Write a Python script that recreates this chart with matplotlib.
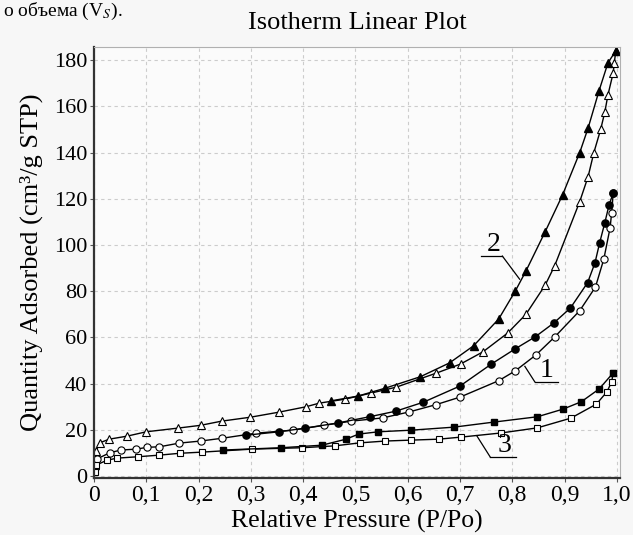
import numpy as np
import matplotlib.pyplot as plt

plt.rcParams['font.family'] = ['Liberation Serif', 'DejaVu Serif']
plt.rcParams['mathtext.fontset'] = 'stix'

# curve 2 (triangles)
ads2_x = [0.001, 0.004, 0.012, 0.029, 0.063, 0.10, 0.161, 0.204, 0.244, 0.299, 0.354, 0.405, 0.431, 0.48,
          0.529, 0.578, 0.655, 0.701, 0.744, 0.791, 0.826, 0.863, 0.881, 0.929, 0.945, 0.956, 0.969, 0.977,
          0.983, 0.993, 0.995, 0.998]
ads2_y = [5.0, 11.0, 14.5, 16.0, 17.3, 19.2, 20.8, 22.0, 23.8, 25.5, 27.7, 30.0, 31.6, 33.3,
          35.9, 38.5, 44.6, 48.5, 53.8, 61.9, 70.0, 82.7, 91.0, 118.8, 129.6, 140.0, 150.0, 157.6,
          165.0, 174.5, 178.8, 184.0]
des2_x = [0.998, 0.983, 0.966, 0.945, 0.929, 0.896, 0.863, 0.826, 0.806, 0.774, 0.726, 0.680, 0.624,
          0.556, 0.504, 0.454]
des2_y = [184.0, 178.8, 166.8, 150.6, 140.0, 121.6, 105.8, 88.7, 80.2, 68.0, 56.4, 49.0, 43.0,
          38.0, 34.6, 32.6]

# curve 1 (circles)
ads1_x = [0.001, 0.006, 0.03, 0.051, 0.081, 0.102, 0.125, 0.163, 0.204, 0.245, 0.31, 0.38, 0.44, 0.492,
          0.552, 0.603, 0.655, 0.70, 0.774, 0.806, 0.845, 0.881, 0.929, 0.959, 0.975, 0.987, 0.990, 0.993]
ads1_y = [3.5, 7.5, 10.1, 11.3, 11.7, 12.5, 12.7, 14.3, 15.2, 16.4, 18.6, 19.9, 22.0, 23.8,
          25.2, 27.8, 31.0, 34.2, 41.3, 45.6, 52.4, 60.2, 71.6, 81.8, 93.9, 107.4, 114.0, 122.5]
des1_x = [0.993, 0.985, 0.977, 0.967, 0.958, 0.944, 0.911, 0.879, 0.844, 0.805, 0.76, 0.70, 0.63,
          0.577, 0.527, 0.466, 0.404, 0.354, 0.29]
des1_y = [122.5, 117.3, 109.7, 100.9, 92.2, 83.7, 72.7, 66.2, 60.3, 55.0, 48.5, 39.0, 32.0,
          28.1, 25.7, 23.0, 20.8, 19.2, 17.7]

# curve 3 (squares)
ads3_x = [0.001, 0.004, 0.025, 0.044, 0.084, 0.125, 0.164, 0.206, 0.302, 0.398, 0.46, 0.508, 0.557,
          0.607, 0.659, 0.702, 0.779, 0.848, 0.912, 0.961, 0.981, 0.990, 0.993]
ads3_y = [2.0, 4.8, 6.9, 7.8, 8.4, 9.1, 9.9, 10.4, 11.7, 12.3, 13.1, 14.4, 15.2,
          15.6, 16.0, 16.9, 18.7, 20.9, 25.1, 31.2, 36.5, 40.8, 44.7]
des3_x = [0.993, 0.966, 0.932, 0.897, 0.848, 0.765, 0.688, 0.607, 0.544, 0.506, 0.482, 0.436, 0.358, 0.247]
des3_y = [44.7, 37.7, 32.2, 29.0, 25.7, 23.4, 21.2, 19.9, 19.2, 18.2, 16.0, 13.4, 12.3, 11.3]

x_ticks = [0, 0.1, 0.2, 0.3, 0.4, 0.5, 0.6, 0.7, 0.8, 0.9, 1.0]
x_ticklabels = ['0', '0,1', '0,2', '0,3', '0,4', '0,5', '0,6', '0,7', '0,8', '0,9', '1,0']
y_ticks = [0, 20, 40, 60, 80, 100, 120, 140, 160, 180]

# curve labels: text, text centre, underline (x0, x1, y), leader start, leader end
labels = [('2', (0.764, 100.0), (0.741, 0.781, 95.2), (0.781, 95.2), (0.814, 85.2)),
          ('1', (0.866, 45.8), (0.843, 0.887, 40.8), (0.843, 40.8), (0.824, 47.5)),
          ('3', (0.786, 13.2), (0.758, 0.807, 8.2), (0.758, 8.2), (0.732, 17.5))]

fig = plt.figure(figsize=(6.33, 5.35), dpi=100, facecolor='#f7f7f7')
ax = fig.add_axes([0.1485, 0.1065, 0.831, 0.8055], facecolor='#fbfbfb')

ls = dict(color='black', lw=1.0)
ax.plot(ads2_x, ads2_y, marker='^', ms=6, mfc='white', mec='black', mew=0.8, **ls)
ax.plot(des2_x, des2_y, marker='^', ms=6, mfc='black', mec='black', **ls)
ax.plot(ads1_x, ads1_y, marker='o', ms=5.2, mfc='white', mec='black', mew=0.8, **ls)
ax.plot(des1_x, des1_y, marker='o', ms=5.2, mfc='black', mec='black', **ls)
ax.plot(ads3_x, ads3_y, marker='s', ms=4.8, mfc='white', mec='black', mew=0.8, **ls)
ax.plot(des3_x, des3_y, marker='s', ms=4.8, mfc='black', mec='black', **ls)

for txt, tpos, ul, start, end in labels:
    ax.text(tpos[0], tpos[1], txt, fontsize=20, ha='center', va='center')
    ax.plot([ul[0], ul[1]], [ul[2], ul[2]], color='black', lw=0.9)
    ax.plot([start[0], end[0]], [start[1], end[1]], color='black', lw=0.9)

ax.set_xlim(0, 1.006)
ax.set_ylim(-0.8, 185.6)
ax.set_xticks(x_ticks)
ax.set_xticklabels(x_ticklabels)
ax.set_yticks(y_ticks)
ax.tick_params(axis='y', labelsize=16, length=3, color='#555555', pad=2)
ax.tick_params(axis='x', labelsize=17, length=3, color='#555555', pad=2)
ax.grid(True, color='#cccccc', ls=(0, (3, 3)), lw=0.8)
ax.set_axisbelow(True)

for s in ['left', 'bottom']:
    ax.spines[s].set_color('#333333')
    ax.spines[s].set_linewidth(1.6)
for s in ['top', 'right']:
    ax.spines[s].set_color('#b0b0b0')
    ax.spines[s].set_linewidth(0.8)

ax.set_title('Isotherm Linear Plot', fontsize=19, pad=13)
ax.set_xlabel('Relative Pressure (P/Po)', fontsize=18.5, labelpad=3)
ax.set_ylabel('Quantity Adsorbed (cm³/g STP)', fontsize=19, labelpad=8)

fig.text(0.005, 0.998, 'о объема (V$_S$).', fontsize=14, ha='left', va='top')

fig.savefig('out.png', dpi=100, facecolor=fig.get_facecolor())
